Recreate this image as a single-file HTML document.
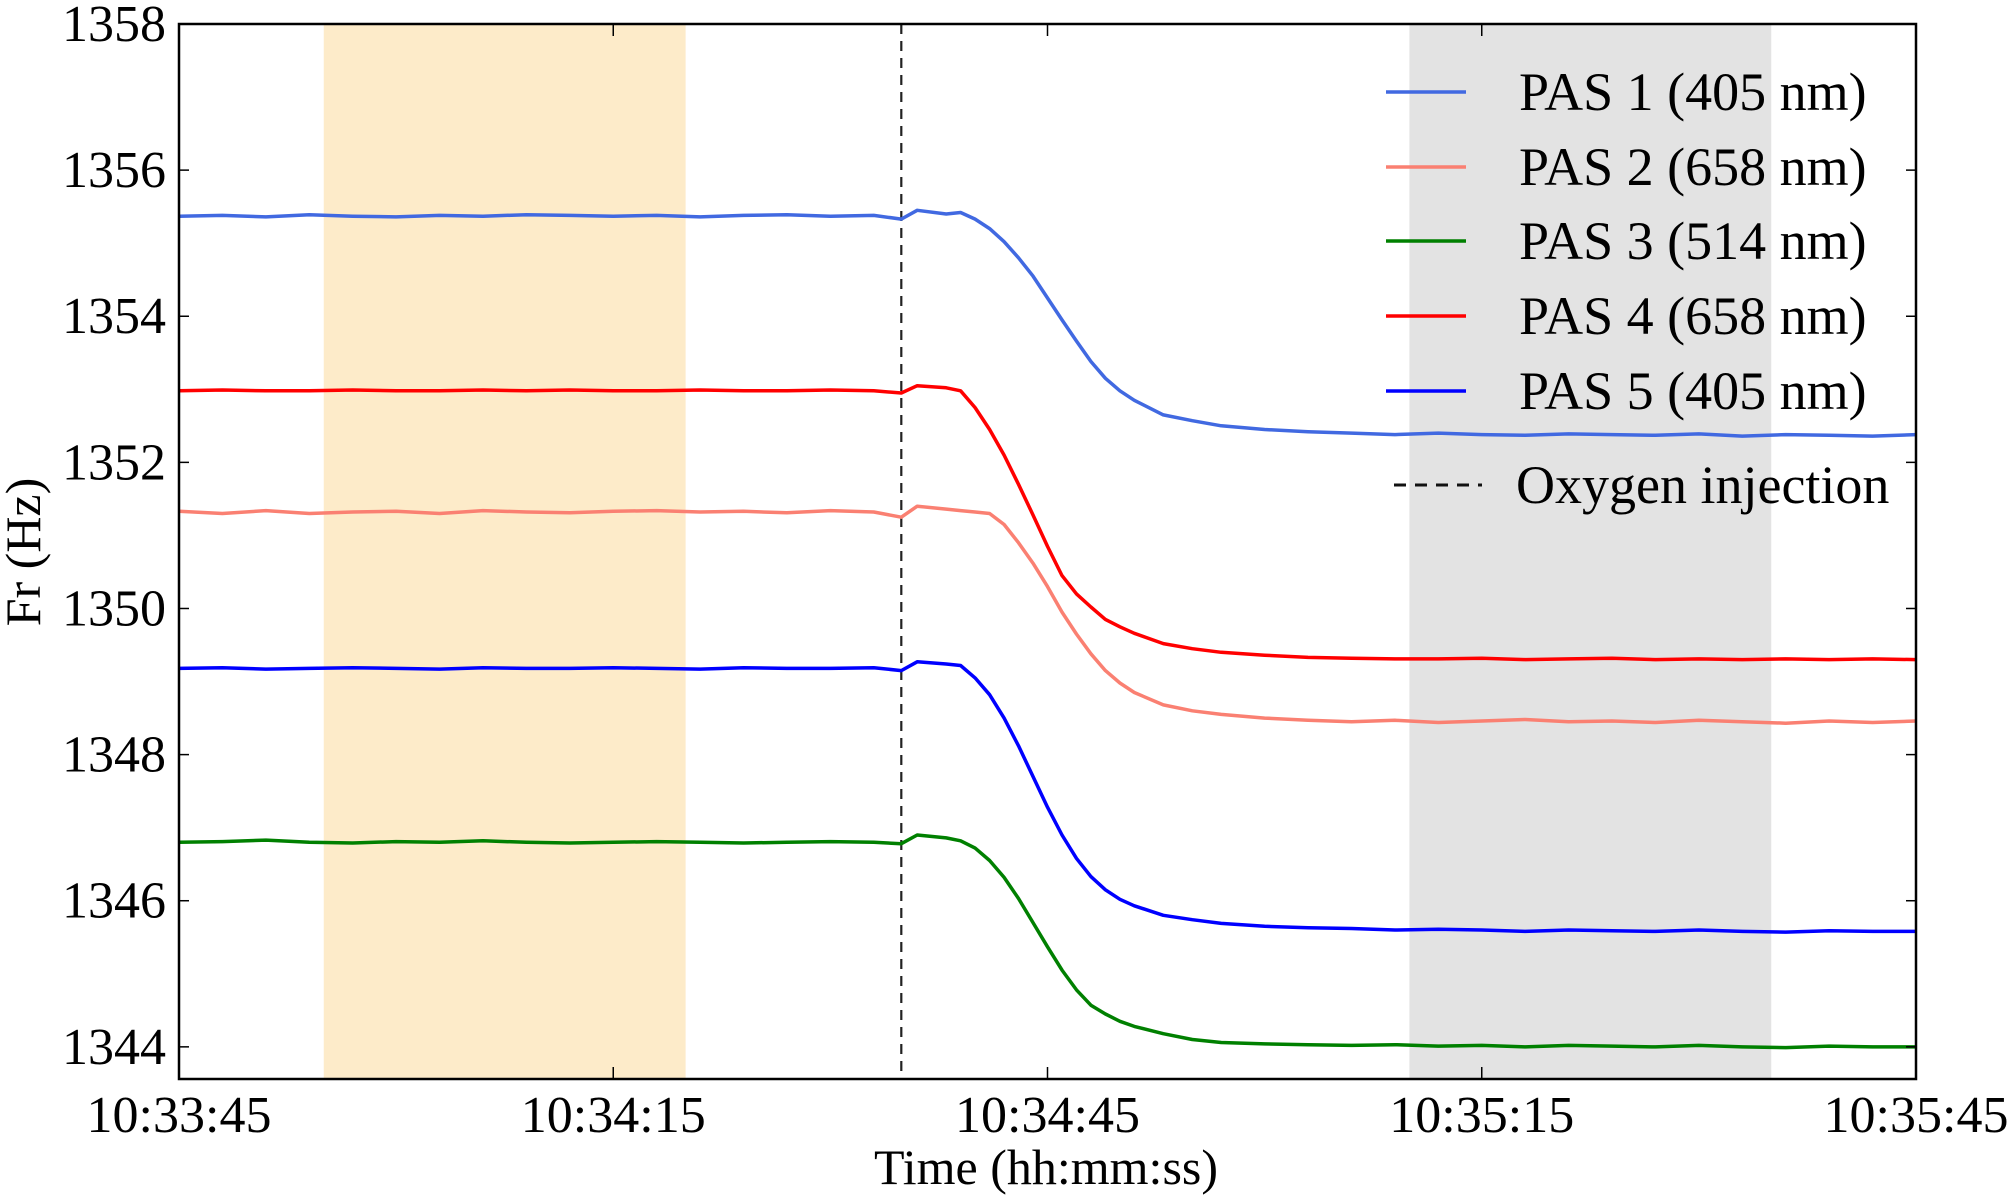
<!DOCTYPE html>
<html><head><meta charset="utf-8"><style>
html,body{margin:0;padding:0;background:#fff}
svg{display:block;font-family:"Liberation Serif","Times New Roman",serif}
</style></head><body>
<svg id="chart" width="2007" height="1199" viewBox="0 0 2007 1199">
<g id="bands"></g><g id="lines"></g><g id="axes"></g><g id="legend"></g>
</svg>
<script>
const times=[0,3,6,9,12,15,18,21,24,27,30,33,36,39,42,45,48,49.9,51,53,54,55,56,57,58,59,60,61,62,63,64,65,66,68,70,72,75,78,81,84,87,90,93,96,99,102,105,108,111,114,117,120];
const pas1=[1355.37,1355.38,1355.36,1355.39,1355.37,1355.36,1355.38,1355.37,1355.39,1355.38,1355.37,1355.38,1355.36,1355.38,1355.39,1355.37,1355.38,1355.33,1355.45,1355.40,1355.42,1355.33,1355.20,1355.02,1354.80,1354.55,1354.25,1353.95,1353.66,1353.38,1353.15,1352.98,1352.85,1352.65,1352.57,1352.50,1352.45,1352.42,1352.40,1352.38,1352.40,1352.38,1352.37,1352.39,1352.38,1352.37,1352.39,1352.36,1352.38,1352.37,1352.36,1352.38];
const pas2=[1351.33,1351.30,1351.34,1351.30,1351.32,1351.33,1351.30,1351.34,1351.32,1351.31,1351.33,1351.34,1351.32,1351.33,1351.31,1351.34,1351.32,1351.25,1351.40,1351.36,1351.34,1351.32,1351.30,1351.15,1350.90,1350.62,1350.30,1349.95,1349.65,1349.38,1349.15,1348.98,1348.85,1348.68,1348.60,1348.55,1348.50,1348.47,1348.45,1348.47,1348.44,1348.46,1348.48,1348.45,1348.46,1348.44,1348.47,1348.45,1348.43,1348.46,1348.44,1348.46];
const pas3=[1346.80,1346.81,1346.83,1346.80,1346.79,1346.81,1346.80,1346.82,1346.80,1346.79,1346.80,1346.81,1346.80,1346.79,1346.80,1346.81,1346.80,1346.78,1346.90,1346.86,1346.82,1346.72,1346.55,1346.32,1346.03,1345.70,1345.37,1345.05,1344.78,1344.57,1344.45,1344.35,1344.28,1344.18,1344.10,1344.06,1344.04,1344.03,1344.02,1344.03,1344.01,1344.02,1344.00,1344.02,1344.01,1344.00,1344.02,1344.00,1343.99,1344.01,1344.00,1344.00];
const pas4=[1352.98,1352.99,1352.98,1352.98,1352.99,1352.98,1352.98,1352.99,1352.98,1352.99,1352.98,1352.98,1352.99,1352.98,1352.98,1352.99,1352.98,1352.95,1353.05,1353.02,1352.98,1352.75,1352.45,1352.10,1351.70,1351.28,1350.85,1350.45,1350.20,1350.02,1349.85,1349.75,1349.66,1349.52,1349.45,1349.40,1349.36,1349.33,1349.32,1349.31,1349.31,1349.32,1349.30,1349.31,1349.32,1349.30,1349.31,1349.30,1349.31,1349.30,1349.31,1349.30];
const pas5=[1349.18,1349.19,1349.17,1349.18,1349.19,1349.18,1349.17,1349.19,1349.18,1349.18,1349.19,1349.18,1349.17,1349.19,1349.18,1349.18,1349.19,1349.15,1349.27,1349.24,1349.22,1349.05,1348.82,1348.50,1348.12,1347.70,1347.28,1346.90,1346.58,1346.33,1346.15,1346.02,1345.93,1345.80,1345.74,1345.69,1345.65,1345.63,1345.62,1345.60,1345.61,1345.60,1345.58,1345.60,1345.59,1345.58,1345.60,1345.58,1345.57,1345.59,1345.58,1345.58];
const seriesNames=["PAS 1 (405 nm)","PAS 2 (658 nm)","PAS 3 (514 nm)","PAS 4 (658 nm)","PAS 5 (405 nm)"];
const seriesColors=["#4169e1","#fa8072","#008000","#ff0000","#0000ff"];
const yTicks=[1344,1346,1348,1350,1352,1354,1356,1358];
const xTicks=[0,30,60,90,120];
const xTickLabels=["10:33:45","10:34:15","10:34:45","10:35:15","10:35:45"];
const bandStarts=[10,85];
const bandEnds=[35,110];
const bandColors=["#fdebc9","#e3e3e3"];
const injectionTime=49.9;

const L=179,R=1916,T=24,B=1079;
const X0=0,X1=120,Y0=1343.56,Y1=1358;
const sx=t=>L+(t-X0)/(X1-X0)*(R-L);
const sy=v=>B-(v-Y0)/(Y1-Y0)*(B-T);
const NS="http://www.w3.org/2000/svg";
function mk(tag,attrs,parent){const e=document.createElementNS(NS,tag);for(const k in attrs)e.setAttribute(k,attrs[k]);parent.appendChild(e);return e;}
const gB=document.getElementById('bands'),gL=document.getElementById('lines'),gA=document.getElementById('axes'),gG=document.getElementById('legend');

bandStarts.forEach((s,i)=>{const r=mk('rect',{x:sx(s),y:T,width:sx(bandEnds[i])-sx(s),height:B-T,fill:bandColors[i]},gB);

});

const inj=mk('line',{x1:sx(injectionTime),x2:sx(injectionTime),y1:T,y2:B,stroke:'#222','stroke-width':2.2,'stroke-dasharray':'10,7'},gL);



[pas1,pas2,pas3,pas4,pas5].forEach((vals,i)=>{
 const d=vals.map((v,j)=>(j?'L':'M')+sx(times[j]).toFixed(1)+','+sy(v).toFixed(1)).join(' ');
 const p=mk('path',{d:d,fill:'none',stroke:seriesColors[i],'stroke-width':3.5,'stroke-linejoin':'round'},gL);
 
 
});

const frame=mk('rect',{x:L,y:T,width:R-L,height:B-T,fill:'none',stroke:'#000','stroke-width':2.5},gA);


yTicks.forEach(v=>{const y=sy(v);
 mk('line',{x1:L,x2:L+10,y1:y,y2:y,stroke:'#000','stroke-width':1.5},gA);
 mk('line',{x1:R,x2:R-10,y1:y,y2:y,stroke:'#000','stroke-width':1.5},gA);
 const t=mk('text',{x:L-13,y:y+17,'text-anchor':'end','font-size':52},gA);t.textContent=v;
 
 });
xTicks.forEach((s,i)=>{const x=sx(s);
 mk('line',{x1:x,x2:x,y1:B,y2:B-12,stroke:'#000','stroke-width':1.5},gA);
 mk('line',{x1:x,x2:x,y1:T,y2:T+12,stroke:'#000','stroke-width':1.5},gA);
 const t=mk('text',{x:x,y:B+53,'text-anchor':'middle','font-size':52},gA);t.textContent=xTickLabels[i];
 
 });
const xl=mk('text',{x:1046,y:1184,'text-anchor':'middle','font-size':50},gA);xl.textContent='Time (hh:mm:ss)';


const yl=mk('text',{x:0,y:0,'text-anchor':'middle','font-size':50,transform:'translate(40,552) rotate(-90)'},gA);yl.textContent='Fr (Hz)';



const legY=[92,167,241,316,391];
seriesNames.forEach((n,i)=>{
 const g=mk('g',{},gG);
 
 
 mk('line',{x1:1386,x2:1466,y1:legY[i],y2:legY[i],stroke:seriesColors[i],'stroke-width':3.5},g);
 const t=mk('text',{x:1519,y:legY[i]+18,'font-size':54},g);t.textContent=n;});
const gi=mk('g',{},gG);


mk('line',{x1:1394,x2:1482,y1:485,y2:485,stroke:'#111','stroke-width':3,'stroke-dasharray':'12,9'},gi);
const ti=mk('text',{x:1516,y:503,'font-size':54},gi);ti.textContent='Oxygen injection';
</script>
</body></html>
